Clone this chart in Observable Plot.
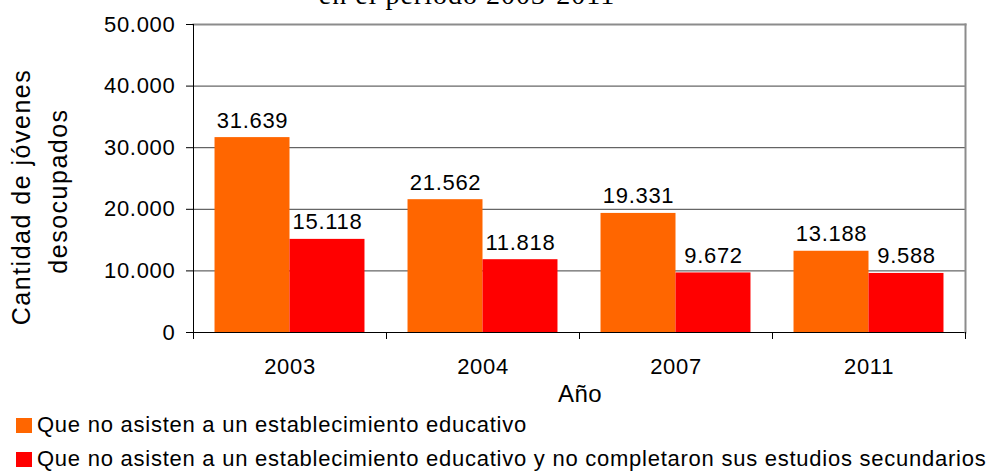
<!DOCTYPE html>
<html><head><meta charset="utf-8">
<script src="https://cdn.jsdelivr.net/npm/d3@7"></script>
<script src="https://cdn.jsdelivr.net/npm/@observablehq/plot@0.6"></script>
<style>
body{margin:0;width:998px;height:472px;overflow:hidden;background:#fff;position:relative;font-family:"Liberation Sans",Arial,sans-serif;color:#000;}
#chart{position:absolute;left:0;top:0;}
.title{position:absolute;left:0;width:934px;top:-21px;text-align:center;font-family:"Liberation Serif","Times New Roman",serif;font-size:28px;line-height:32px;letter-spacing:1px;white-space:nowrap;}
.ylab{position:absolute;width:300px;height:30px;line-height:30px;text-align:center;font-size:25px;letter-spacing:1.5px;white-space:nowrap;transform:rotate(-90deg);transform-origin:50% 50%;}
.xlab{position:absolute;left:480px;width:200px;top:380px;line-height:28px;font-size:24px;letter-spacing:0.5px;text-align:center;}
.sw{position:absolute;left:16px;width:16px;height:15px;}
.lt{position:absolute;left:37px;font-size:22px;line-height:24px;letter-spacing:0.75px;white-space:nowrap;}
</style>
</head><body>
<div id="chart"></div>
<div class="title">en el período 2003-2011</div>
<div class="ylab" id="yl1"></div>
<div class="ylab" id="yl2"></div>
<div class="xlab" id="xl"></div>
<div id="legend"></div>
<script>
const years = ["2003", "2004", "2007", "2011"];
const seriesNames = [
  "Que no asisten a un establecimiento educativo",
  "Que no asisten a un establecimiento educativo y no completaron sus estudios secundarios"
];
const noAsisten = [31639, 21562, 19331, 13188];
const noAsistenSinSecundario = [15118, 11818, 9672, 9588];
const yTicks = [0, 10000, 20000, 30000, 40000, 50000];
const colors = ["#FF6600", "#FF0000"];
const yLabelLines = ["Cantidad de jóvenes", "desocupados"];
const xLabel = "Año";

const rows = years.flatMap((yr, i) => [
  {year: yr, series: seriesNames[0], value: noAsisten[i]},
  {year: yr, series: seriesNames[1], value: noAsistenSinSecundario[i]}
]);

const W = 998, H = 390, mT = 24, mB = 58, mL = 193, mR = 33;
const plotH = H - mT - mB;
const fmt = v => d3.format(",")(v).replace(/,/g, ".");

const chart = Plot.plot({
  width: W, height: H,
  marginTop: mT, marginBottom: mB, marginLeft: mL, marginRight: mR,
  style: {fontFamily: '"Liberation Sans", Arial, sans-serif', fontSize: "22px", letterSpacing: "0.7px", color: "#000", background: "#fff"},
  fx: {domain: years, padding: 0, label: null},
  x: {domain: seriesNames, paddingInner: 0, paddingOuter: 0.287, axis: null, round: false},
  y: {domain: [0, 50000]},
  color: {domain: seriesNames, range: colors},
  marks: [
    Plot.gridY(yTicks.slice(1, -1), {stroke: "#404040", strokeOpacity: 1}),
    Plot.barY(rows, {fx: "year", x: "series", y: "value", fill: "series"}),
    Plot.text(rows, {fx: "year", x: "series", y: "value", text: d => fmt(d.value), dy: -10, lineAnchor: "bottom", fontSize: 22, fill: "#000"}),
    Plot.ruleY([0], {stroke: "#000"}),
    Plot.frame({facet: "super", anchor: "top", stroke: "#8c8c8c", strokeWidth: 2}),
    Plot.frame({facet: "super", anchor: "right", stroke: "#8c8c8c", strokeWidth: 2}),
    Plot.frame({facet: "super", anchor: "left", stroke: "#000", insetBottom: -6}),
    Plot.frame({anchor: "left", stroke: "#000", insetTop: plotH, insetBottom: -6}),
    Plot.frame({anchor: "right", stroke: "#000", insetTop: plotH, insetBottom: -6}),
    Plot.axisY(yTicks, {anchor: "left", tickFormat: fmt, tickSize: 7, tickPadding: 11, fontSize: 22, label: null, stroke: "#000"}),
    Plot.axisFx({anchor: "bottom", tickSize: 0, tickPadding: 26, fontSize: 22, label: null})
  ]
});
document.getElementById("chart").appendChild(chart);

// y label (two rotated lines)
const yl1 = document.getElementById("yl1");
yl1.textContent = yLabelLines[0];
yl1.style.left = (21 - 150) + "px"; yl1.style.top = (197 - 15) + "px";
const yl2 = document.getElementById("yl2");
yl2.textContent = yLabelLines[1];
yl2.style.left = (58 - 150) + "px"; yl2.style.top = (191 - 15) + "px";
document.getElementById("xl").textContent = xLabel;

// legend
const legend = document.getElementById("legend");
const legendTops = [418, 452];
seriesNames.forEach((name, i) => {
  const sw = document.createElement("div");
  sw.className = "sw"; sw.style.top = legendTops[i] + "px"; sw.style.background = colors[i];
  legend.appendChild(sw);
  const t = document.createElement("div");
  t.className = "lt"; t.style.top = (legendTops[i] - 5) + "px"; t.textContent = name;
  legend.appendChild(t);
});
</script>
</body></html>
